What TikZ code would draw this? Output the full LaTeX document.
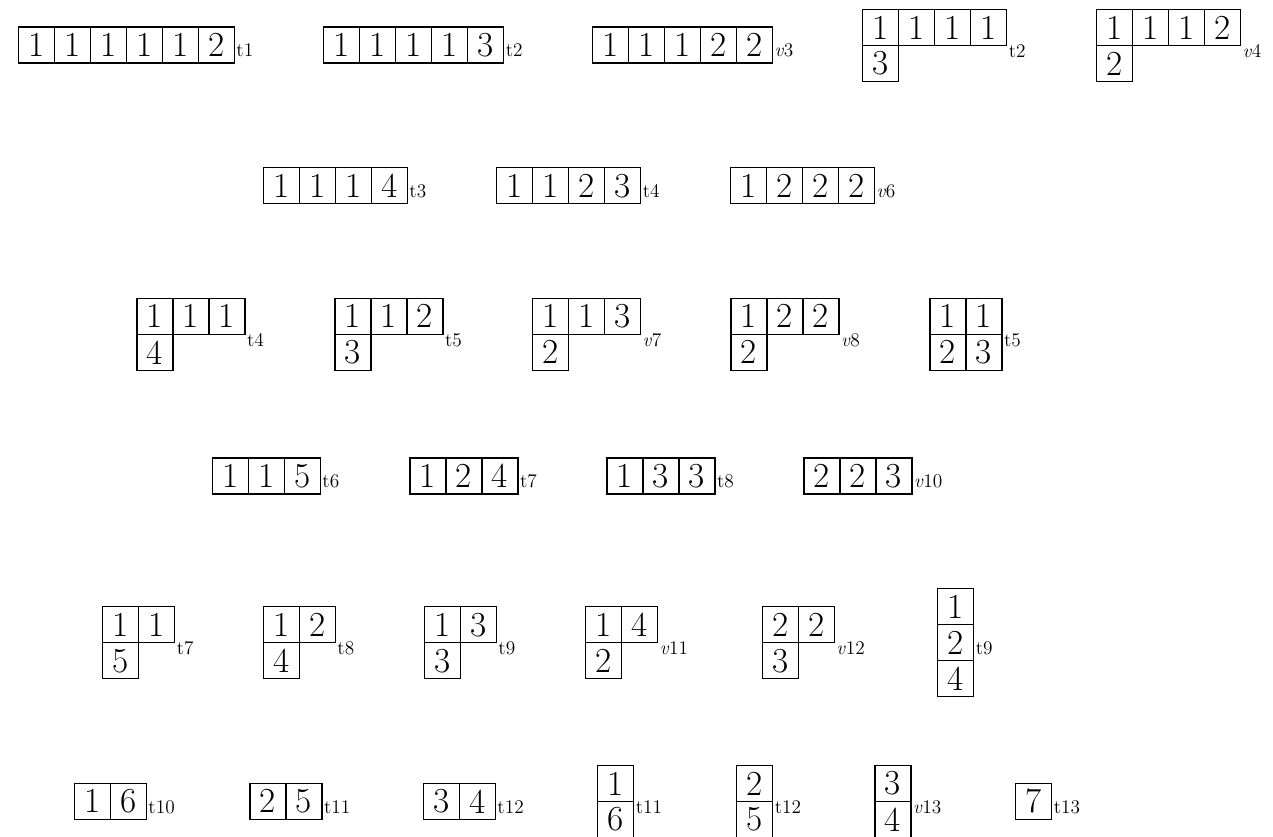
\documentclass[tikz,border=0pt]{standalone}
\usepackage{amsmath}
\usepackage{fontspec}
\usepackage{xcolor}
\usepackage{tikz}
\usetikzlibrary{positioning}

% tableau: name, left x, centre y, columns, rows, entries, label
\newcommand{\ytab}[7]{%
  \foreach \row [count=\r] in {#6} {%
    \foreach \v [count=\c] in \row {%
      \node[cell] (#1-\r-\c) at ({#2+(\c-0.5)*36},{#3-#5*18+(\r-0.5)*36}) {\v};
    }%
  }%
  \node[lab] (#1-lab) at ({#2+#4*36+1.5},{#3+5.5}) {#7};%
}

\begin{document}
\begin{tikzpicture}[x=0.02cm, y=-0.02cm, line width=0.7pt,
    cell/.style={draw, minimum size=0.72cm, inner sep=0pt,
      font=\fontsize{20}{24}\selectfont},
    lab/.style={anchor=west, inner sep=0pt,
      font=\fontsize{11}{13}\selectfont\addfontfeature{LetterSpace=12}}]
    \useasboundingbox (0,0) rectangle (1273,837);

    % Row 1
    \ytab{a1}{18.3}{45}{6}{1}{{1,1,1,1,1,2}}{t1}
    \ytab{a2}{323.7}{45}{5}{1}{{1,1,1,1,3}}{t2}
    \ytab{a3}{592.5}{45}{5}{1}{{1,1,1,2,2}}{\textit{v}3}
    \ytab{a4}{862.7}{45.5}{4}{2}{{1,1,1,1},{3}}{t2}
    \ytab{a5}{1096.5}{45.5}{4}{2}{{1,1,1,2},{2}}{\textit{v}4}

    % Row 2
    \ytab{b1}{263.3}{185.7}{4}{1}{{1,1,1,4}}{t3}
    \ytab{b2}{496.7}{185.7}{4}{1}{{1,1,2,3}}{t4}
    \ytab{b3}{730.5}{185.7}{4}{1}{{1,2,2,2}}{\textit{v}6}

    % Row 3
    \ytab{c1}{137}{334.3}{3}{2}{{1,1,1},{4}}{t4}
    \ytab{c2}{335}{334.3}{3}{2}{{1,1,2},{3}}{t5}
    \ytab{c3}{532.5}{334.3}{3}{2}{{1,1,3},{2}}{\textit{v}7}
    \ytab{c4}{731}{334.3}{3}{2}{{1,2,2},{2}}{\textit{v}8}
    \ytab{c5}{930}{334.3}{2}{2}{{1,1},{2,3}}{t5}

    % Row 4
    \ytab{d1}{212.3}{476}{3}{1}{{1,1,5}}{t6}
    \ytab{d2}{410}{476}{3}{1}{{1,2,4}}{t7}
    \ytab{d3}{607}{476}{3}{1}{{1,3,3}}{t8}
    \ytab{d4}{804}{476}{3}{1}{{2,2,3}}{\textit{v}10}

    % Row 5
    \ytab{e1}{102.7}{642.7}{2}{2}{{1,1},{5}}{t7}
    \ytab{e2}{263.3}{642.7}{2}{2}{{1,2},{4}}{t8}
    \ytab{e3}{424.3}{642.7}{2}{2}{{1,3},{3}}{t9}
    \ytab{e4}{585.7}{642.7}{2}{2}{{1,4},{2}}{\textit{v}11}
    \ytab{e5}{762.3}{642.7}{2}{2}{{2,2},{3}}{\textit{v}12}
    \ytab{e6}{937.7}{642.7}{1}{3}{{1},{2},{4}}{t9}

    % Row 6
    \ytab{f1}{74.3}{801.3}{2}{1}{{1,6}}{t10}
    \ytab{f2}{250}{801.3}{2}{1}{{2,5}}{t11}
    \ytab{f3}{423.3}{801.3}{2}{1}{{3,4}}{t12}
    \ytab{f4}{597.7}{801.5}{1}{2}{{1},{6}}{t11}
    \ytab{f5}{736.7}{801.5}{1}{2}{{2},{5}}{t12}
    \ytab{f6}{875}{801.5}{1}{2}{{3},{4}}{\textit{v}13}
    \ytab{f7}{1015.7}{801.3}{1}{1}{{7}}{t13}
\end{tikzpicture}
\end{document}
